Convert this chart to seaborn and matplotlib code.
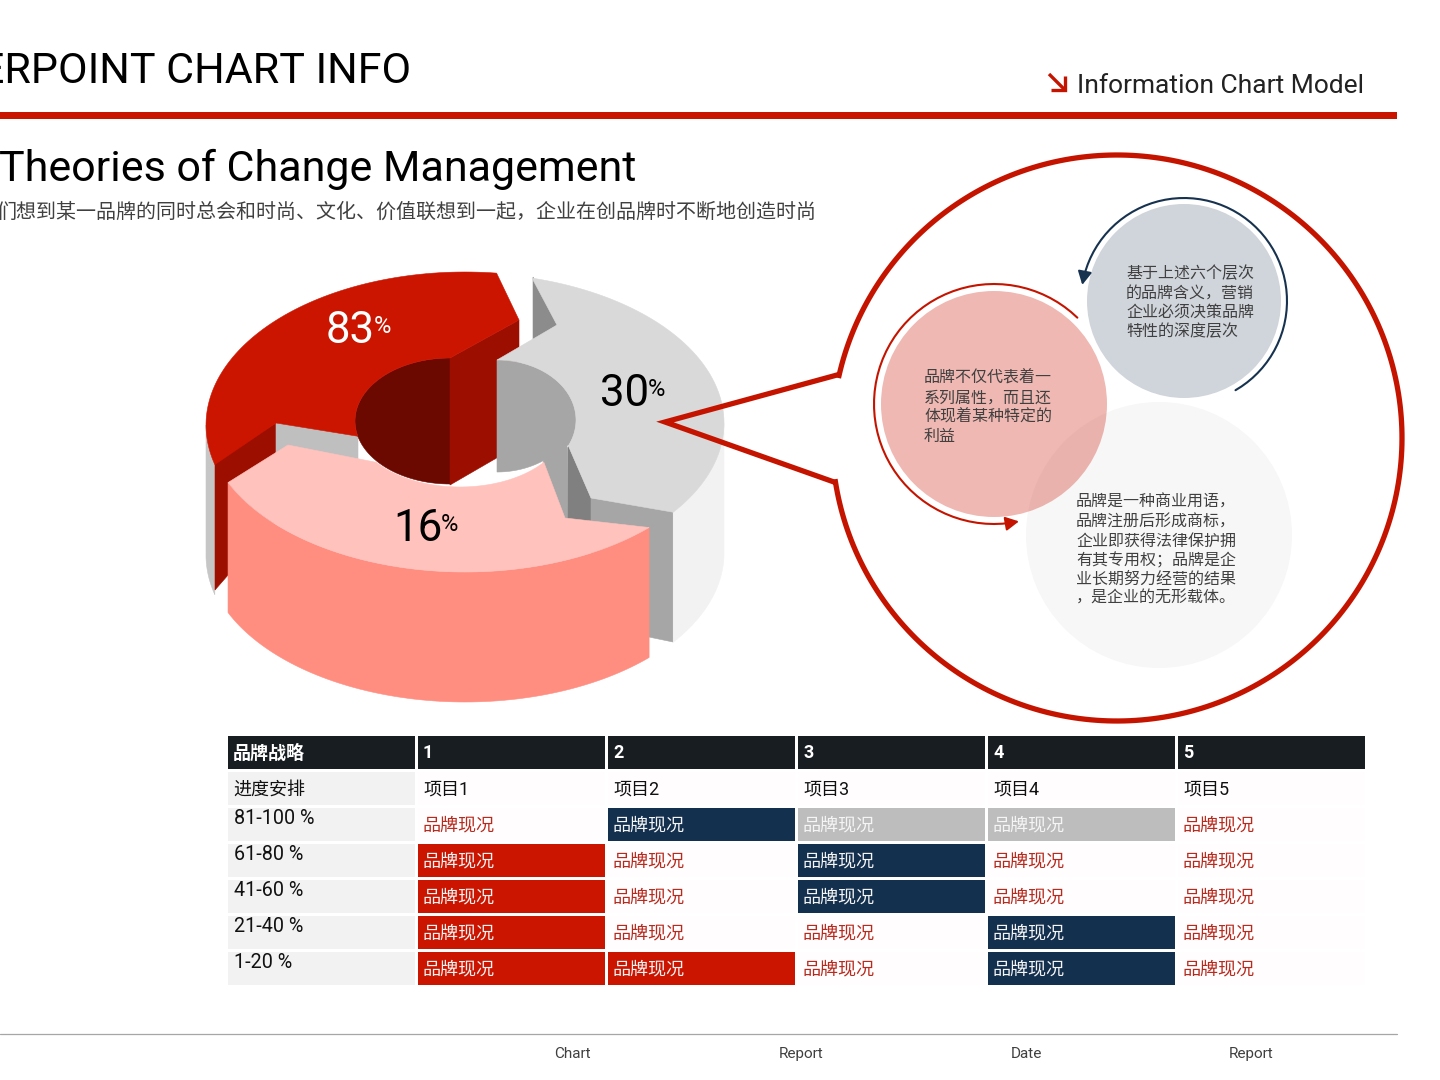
import numpy as np
import matplotlib
matplotlib.use("Agg")
import matplotlib.pyplot as plt
from matplotlib.colors import ListedColormap
from matplotlib.patches import Polygon, Circle, FancyArrowPatch
from matplotlib.path import Path
import seaborn as sns

sns.set_theme(style="white")
plt.rcParams['font.family'] = ['Roboto', 'Noto Sans CJK SC', 'DejaVu Sans']

# ---------- data ----------
pie_values = ["83", "30", "16"]
table_header = ["品牌战略", "1", "2", "3", "4", "5"]
table_projects = ["进度安排", "项目1", "项目2", "项目3", "项目4", "项目5"]
table_ranges = ["81-100 %", "61-80 %", "41-60 %", "21-40 %", "1-20 %"]
cell_label = "品牌现况"
# 0 blank, 3 red, 4 navy, 5 grey
status_81_100 = [0, 4, 5, 5, 0]
status_61_80 = [3, 0, 4, 0, 0]
status_41_60 = [3, 0, 4, 0, 0]
status_21_40 = [3, 0, 0, 4, 0]
status_1_20 = [3, 3, 0, 4, 0]
note_grey = ["基于上述六个层次", "的品牌含义，营销", "企业必须决策品牌", "特性的深度层次"]
note_pink = ["品牌不仅代表着一", "系列属性，而且还", "体现着某种特定的", "利益"]
note_light = ["品牌是一种商业用语，", "品牌注册后形成商标，", "企业即获得法律保护拥", "有其专用权；品牌是企",
              "业长期努力经营的结果", "，是企业的无形载体。"]
footer_labels = ["Chart", "Report", "Date", "Report"]

RED = "#cc1500"
W, H = 1440, 1080
fig = plt.figure(figsize=(14.4, 10.8), dpi=100, facecolor="white")
ax = fig.add_axes([0, 0, 1, 1])
ax.set_xlim(0, W)
ax.set_ylim(H, 0)
ax.axis("off")


def ell(cx, cy, a, b, t0, t1, n=80):
    t = np.radians(np.linspace(t0, t1, n))
    return np.column_stack([cx + a * np.cos(t), cy + b * np.sin(t)])


def poly(pts, color, z=2):
    ax.add_patch(Polygon(np.vstack(pts), closed=True, fc=color, ec=color, lw=0.4, zorder=z))


def shifted(arc, dy):
    return (arc + [0, dy])[::-1]


DEPTH = 130
# red segment
a_red = ell(465, 425, 259, 153, 165, 277)
a_red_left = ell(465, 425, 259, 153, 165, 180)
poly([a_red_left, shifted(a_red_left, DEPTH)], "#c6c6c6")
poly([[[215, 460], [276, 423], [276, 520], [215, 590]]], "#9b0e00")
poly([[[276, 423], [358, 436], [358, 490], [276, 490]]], "#bfbfbf")
poly([ell(450, 421, 95, 63, 270, 90)], "#6b0800")
poly([[[450, 358], [519, 320], [519, 445], [450, 485]]], "#9b0e00")
poly([a_red, [[519, 320], [450, 358]], ell(450, 421, 95, 63, 270, 166), [[276, 423]]], RED)

# grey segment
poly([[[533, 277], [557, 325], [533, 340]]], "#8c8c8c")
poly([ell(497, 420, 79, 60, -90, 27), [[568, 525], [543, 525], [543, 463]],
      ell(497, 412, 79, 60, 54, 90)], "#a6a6a6")
poly([[[568, 445], [591, 498], [591, 530], [568, 525]]], "#808080")
poly([[[591, 498], [673, 510], [673, 642], [591, 625]]], "#a6a6a6")
a_grey_side = ell(465, 423, 259, 150, 0, 36.5)
poly([a_grey_side, shifted(a_grey_side, DEPTH)], "#f2f2f2")
poly([ell(465, 423, 259, 150, -75, 36.5), [[591, 498], [568, 445]],
      ell(497, 420, 79, 60, 27, -90), [[557, 325]]], "#d9d9d9")

# pink segment
a_pink = ell(465, 422, 259, 150, 44.7, 156.2)
poly([a_pink, shifted(a_pink, DEPTH)], "#ff8d80", 3)
poly([a_pink, [[288, 445]], ell(460, 425, 105, 62, 143, 37), [[565, 518]]], "#ffc2bc", 3)

# pie labels
for val, x, base, col in zip(pie_values, [326, 600, 393], [343, 406, 541], ["white", "black", "black"]):
    t = ax.text(x, base, val, fontsize=31.5, color=col, va="baseline", ha="left", zorder=6)
    fig.canvas.draw()
    bb = t.get_window_extent()
    ax.text(bb.x1 - 1, base - 10, "%", fontsize=17, color=col, va="baseline", ha="left", zorder=6)

# speech bubble
cx, cy, rx, ry = 1117, 438, 285, 283
a0 = np.degrees(np.arctan2((482 - cy) / ry, (834 - cx) / rx)) % 360
a1 = np.degrees(np.arctan2((375 - cy) / ry, (837 - cx) / rx)) % 360
bubble = np.vstack([[[665, 422]], [[834, 482]], ell(cx, cy, rx, ry, a0, a1 - 360, 300), [[837, 375]], [[665, 422]]])
ax.add_patch(Polygon(bubble, closed=True, fc="none", ec="#c41400", lw=3.8, joinstyle="miter", zorder=5))

# inner circles
ax.add_patch(Circle((1159, 535), 133, fc="#f7f7f7", ec="none", zorder=2))
ax.add_patch(Circle((1184, 301), 97, fc="#d0d5db", ec="none", zorder=2))
ax.add_patch(Circle((994, 404), 113, fc=RED, alpha=0.3, ec="none", zorder=3))


def arc_arrow(center, r, t0, t1, color):
    pts = ell(center[0], center[1], r, r, t0, t1, 60)
    codes = [Path.MOVETO] + [Path.LINETO] * (len(pts) - 1)
    ax.add_patch(FancyArrowPatch(path=Path(pts, codes), arrowstyle="-|>,head_length=8,head_width=4.2",
                                 color=color, lw=1.5, shrinkA=0, shrinkB=0, zorder=4))


arc_arrow((994, 404), 120, -46, -282, "#c41400")
arc_arrow((1184, 301), 103, 60, -171, "#17324f")

for lines, x, ys in [(note_grey, 1127, [273, 293, 312, 331]),
                     (note_pink, 925, [378, 398, 417, 436]),
                     (note_light, 1077, [502, 522, 541, 560, 579, 598])]:
    for s, y in zip(lines, ys):
        ax.text(x - 1, y, s, fontsize=11.5, color="#404040", va="center", ha="left", zorder=6)

# header
ax.text(411, 83, "ERPOINT CHART INFO", fontsize=31, color="black", ha="right", va="baseline", clip_on=True)
ax.text(1364, 86, "Information Chart Model", fontsize=19, color="#222222", ha="right", va="center")
ax.plot([1049, 1065], [74, 90], color="#c41400", lw=2.4, solid_capstyle="butt")
ax.plot([1065, 1065, 1051], [76, 90, 90], color="#c41400", lw=2.4, solid_joinstyle="miter", solid_capstyle="butt")
ax.fill_between([0, 1397], 112, 118.5, color="#c91400", lw=0)
ax.text(-1, 181, "Theories of Change Management", fontsize=31, color="black", ha="left", va="baseline")
ax.text(816, 212, "们想到某一品牌的同时总会和时尚、文化、价值联想到一起，企业在创品牌时不断地创造时尚",
        fontsize=14.4, color="#404040", ha="right", va="center", clip_on=True)

# footer
ax.plot([0, 1397], [1034, 1034], color="#a6a6a6", lw=0.9)
for s, x in zip(footer_labels, [572, 801, 1026, 1251]):
    ax.text(x, 1054, s, fontsize=11, color="#404040", ha="center", va="center")

# table
status = [status_81_100, status_61_80, status_41_60, status_21_40, status_1_20]
codes = np.array([[2] * 6, [1] + [0] * 5] + [[1] + r for r in status])
tx, ty, cw, ch = 226, 734, 190, 36
ax_t = fig.add_axes([tx / W, 1 - (ty + 7 * ch) / H, 6 * cw / W, 7 * ch / H])
sns.heatmap(codes, ax=ax_t, cmap=ListedColormap(["#fffdfd", "#f2f2f2", "#181d21", RED, "#14304f", "#bdbdbd"]),
            vmin=-0.5, vmax=5.5, cbar=False, linewidths=1.0, linecolor="white", xticklabels=False, yticklabels=False)
ax_t.set_xlabel("")
ax_t.set_ylabel("")

for j in range(6):
    x = 233 if j == 0 else 423 + (j - 1) * cw
    ax.text(x, 753.5, table_header[j], fontsize=13, fontweight="bold",
            color="white", ha="left", va="center", zorder=7)
    ax.text(x, 790, table_projects[j], fontsize=13,
            color="#111111", ha="left", va="center", zorder=7)
for i, r in enumerate(table_ranges):
    ax.text(234, 818 + i * ch, r, fontsize=14.2, color="#111111", ha="left", va="center", zorder=7)
    for j, code in enumerate(status[i]):
        col = "#b82a1e" if code == 0 else ("#f5f5f5")
        ax.text(423 + j * cw, 825.5 + i * ch, cell_label, fontsize=13, color=col, ha="left", va="center", zorder=7)
ax.set_zorder(5)
ax.patch.set_alpha(0)

fig.savefig("out.png", dpi=100, facecolor="white")
